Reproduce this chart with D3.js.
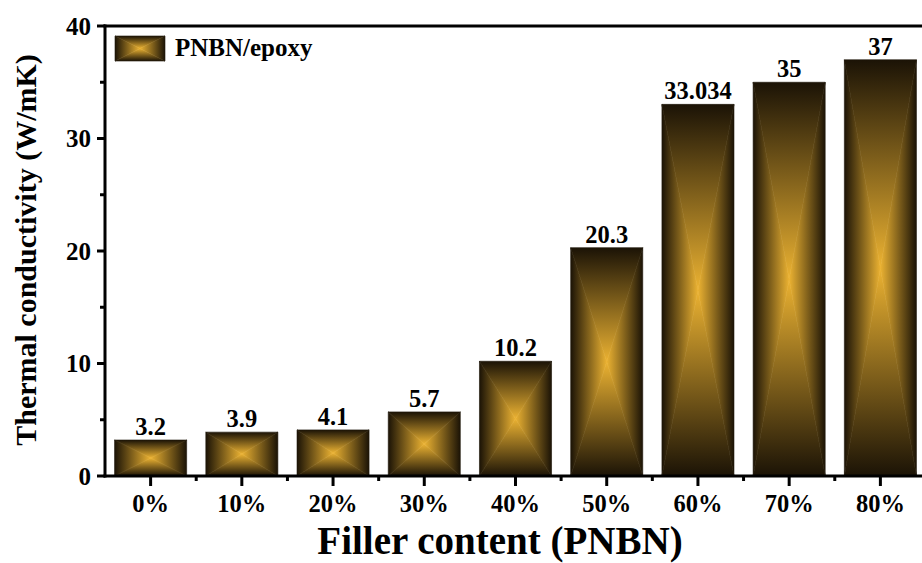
<!DOCTYPE html>
<html><head><meta charset="utf-8">
<script src="https://cdn.jsdelivr.net/npm/d3@7"></script>
<style>body{margin:0;background:#fff}svg{display:block}text{font-family:"Liberation Serif","Times New Roman",serif;font-weight:bold;fill:#000}</style>
</head><body><svg id="c" width="922" height="563"></svg>
<script>
const categories = ["0%","10%","20%","30%","40%","50%","60%","70%","80%"];
const values = [3.2,3.9,4.1,5.7,10.2,20.3,33.034,35,37];
const valueLabels = ["3.2","3.9","4.1","5.7","10.2","20.3","33.034","35","37"];
const yTicks = [0,10,20,30,40];
const yMinorTicks = [5,15,25,35];
const seriesName = "PNBN/epoxy";

const svg = d3.select("#c");
const L = 105, R = 926, T = 26, B = 476;
const x = d3.scaleBand().domain(categories).range([L, R]).paddingInner(0.21).paddingOuter(0.105);
const y = d3.scaleLinear().domain([0, 40]).range([B, T]);

const dark = "#1b1306", gold = "#ebb232";
const defs = svg.append("defs");
function grad(id, x1, y1, x2, y2) {
  const g = defs.append("linearGradient").attr("id", id)
    .attr("x1", x1).attr("y1", y1).attr("x2", x2).attr("y2", y2);
  g.append("stop").attr("offset", 0).attr("stop-color", dark);
  g.append("stop").attr("offset", 1).attr("stop-color", gold);
}
grad("gT", 0, 0, 0, 1); grad("gB", 0, 1, 0, 0); grad("gL", 0, 0, 1, 0); grad("gR", 1, 0, 0, 0);

function boxGradient(g, x0, y0, x1, y1) {
  const cx = (x0 + x1) / 2, cy = (y0 + y1) / 2;
  const tris = [
    ["gT", [[x0, y0], [x1, y0], [cx, cy]]],
    ["gB", [[x0, y1], [x1, y1], [cx, cy]]],
    ["gL", [[x0, y0], [x0, y1], [cx, cy]]],
    ["gR", [[x1, y0], [x1, y1], [cx, cy]]]
  ];
  tris.forEach(([id, pts]) => {
    g.append("polygon").attr("points", pts.map(p => p.join(",")).join(" "))
      .attr("fill", `url(#${id})`).attr("stroke", `url(#${id})`).attr("stroke-width", 0.6);
  });
}

// bars
const bars = svg.append("g");
categories.forEach((c, i) => {
  const g = bars.append("g");
  boxGradient(g, x(c), y(values[i]), x(c) + x.bandwidth(), y(0));
});

// value labels
svg.append("g").selectAll("text").data(categories).join("text")
  .attr("x", d => x(d) + x.bandwidth() / 2)
  .attr("y", (d, i) => y(values[i]) - 5)
  .attr("text-anchor", "middle").attr("font-size", 24.5)
  .text((d, i) => valueLabels[i]);

// axes
const ax = svg.append("g").attr("stroke", "#000").attr("stroke-width", 3).attr("fill", "none");
ax.append("line").attr("x1", L).attr("x2", L).attr("y1", T - 1.5).attr("y2", B + 1.5);
ax.append("line").attr("x1", L - 1.5).attr("x2", 922).attr("y1", B).attr("y2", B);
ax.append("line").attr("x1", L - 1.5).attr("x2", 922).attr("y1", T).attr("y2", T);

// y ticks
yTicks.forEach(v => {
  ax.append("line").attr("x1", L - 8).attr("x2", L).attr("y1", y(v)).attr("y2", y(v));
});
yMinorTicks.forEach(v => {
  ax.append("line").attr("x1", L - 5).attr("x2", L).attr("y1", y(v)).attr("y2", y(v));
});
svg.append("g").selectAll("text").data(yTicks).join("text")
  .attr("x", L - 14).attr("y", d => y(d) + 8.5)
  .attr("text-anchor", "end").attr("font-size", 25).text(d => d);

// x ticks
categories.forEach((c, i) => {
  const cx = x(c) + x.bandwidth() / 2;
  ax.append("line").attr("x1", cx).attr("x2", cx).attr("y1", B).attr("y2", B + 10);
  if (i < categories.length - 1) {
    const mx = cx + x.step() / 2;
    ax.append("line").attr("x1", mx).attr("x2", mx).attr("y1", B).attr("y2", B + 5);
  }
});
svg.append("g").selectAll("text").data(categories).join("text")
  .attr("x", d => x(d) + x.bandwidth() / 2).attr("y", 512)
  .attr("text-anchor", "middle").attr("font-size", 24.5).text(d => d);

// titles
svg.append("text").attr("x", 500).attr("y", 554).attr("text-anchor", "middle")
  .attr("font-size", 39).text("Filler content (PNBN)");
svg.append("text").attr("transform", "translate(36,250) rotate(-90)").attr("text-anchor", "middle")
  .attr("font-size", 30).text("Thermal conductivity (W/mK)");

// legend
const lg = svg.append("g");
boxGradient(lg, 115, 36, 165, 61);
lg.append("text").attr("x", 175).attr("y", 56).attr("font-size", 25).text(seriesName);
</script></body></html>
